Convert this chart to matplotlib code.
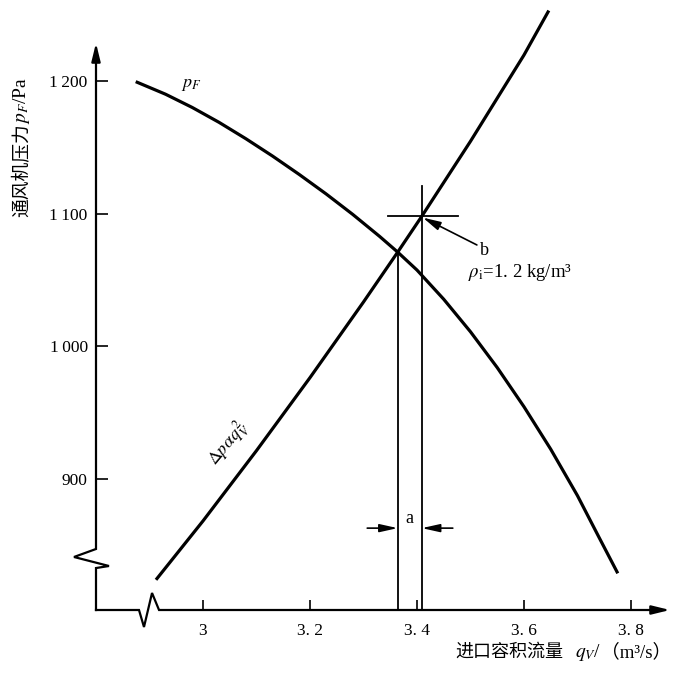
import matplotlib

matplotlib.use("Agg")
import matplotlib.pyplot as plt


# fan characteristic p_F(q_V), Pa vs m3/s
FAN_Q = [2.877, 2.93, 2.98, 3.03, 3.08, 3.13, 3.18, 3.23, 3.28, 3.33, 3.364,
         3.40, 3.45, 3.50, 3.55, 3.60, 3.65, 3.70, 3.74, 3.774]
FAN_P = [1199, 1190, 1180, 1168.8, 1156.5, 1143.4, 1129.5, 1114.9, 1099.4, 1082.9, 1071,
         1057.5, 1035.5, 1011, 984, 954.5, 922.5, 887.5, 856.3, 830]

# system resistance curve, Δp = α ρ q_V²
SYS_Q = [2.914, 3.00, 3.10, 3.20, 3.30, 3.364, 3.409, 3.50, 3.60, 3.645]
SYS_P = [825, 868.4, 921.4, 976.4, 1033.4, 1071, 1098, 1154.5, 1219.5, 1252]

# operating points: curve crossing and point b (ρi = 1.2 kg/m³)
Q_CROSS, P_CROSS = 3.364, 1071
Q_B, P_B = 3.409, 1098

X_TICKS = [3.0, 3.2, 3.4, 3.6, 3.8]
X_TICK_LABELS = ["3", "3. 2", "3. 4", "3. 6", "3. 8"]
Y_TICKS = [900, 1000, 1100, 1200]
Y_TICK_LABELS = ["900", "1\u2009000", "1\u2009100", "1\u2009200"]

W, H = 681, 673
SERIF = ["Liberation Serif", "Noto Sans CJK SC"]
CJK = ["Noto Sans CJK SC", "Liberation Serif"]


def fx(px):
    return px / W


def fy(py):
    return 1 - py / H


def main():
    plt.rcParams.update(
        {
            "font.family": SERIF,
            "font.size": 12,
            "mathtext.fontset": "stix",
        }
    )

    fig = plt.figure(figsize=(W / 100, H / 100), dpi=100)
    ax = fig.add_axes([fx(96), fy(610), (670 - 96) / W, (610 - 43) / H])
    ax.set_xlim(2.8, 3.873)
    ax.set_ylim(801.3, 1228.6)
    ymin = ax.get_ylim()[0]

    for spine in ax.spines.values():
        spine.set_visible(False)

    ax.set_xticks(X_TICKS, X_TICK_LABELS)
    ax.set_yticks(Y_TICKS, Y_TICK_LABELS)
    ax.tick_params(axis="x", direction="in", length=7, width=1.2, pad=9.5, labelsize=12.5)
    ax.tick_params(axis="y", direction="in", length=8.5, width=1.2, pad=6, labelsize=12.5)

    # axis lines with break marks, drawn in axes fraction
    axis_kw = dict(transform=ax.transAxes, clip_on=False, color="black", lw=1.6,
                   solid_joinstyle="miter")
    ax.plot([0, 0, 0.0226, -0.0383, 0, 0], [0, 0.074, 0.0776, 0.0935, 0.1076, 0.98], **axis_kw)
    ax.plot([0, 0.0749, 0.0836, 0.0976, 0.1098, 0.98], [0, 0, -0.030, 0.030, 0, 0], **axis_kw)
    head = dict(arrowstyle="-|>,head_length=0.9,head_width=0.22", color="black",
                lw=1.6, shrinkA=0, shrinkB=0)
    ax.annotate("", xy=(0, 1), xytext=(0, 0.97), xycoords="axes fraction", arrowprops=head)
    ax.annotate("", xy=(1, 0), xytext=(0.97, 0), xycoords="axes fraction", arrowprops=head)

    # curves
    ax.plot(FAN_Q, FAN_P, color="black", lw=2.3, clip_on=False, solid_joinstyle="round")
    ax.plot(SYS_Q, SYS_P, color="black", lw=2.3, clip_on=False, solid_joinstyle="round")

    # construction lines through the operating points
    thin = dict(color="black", lw=1.3)
    ax.plot([Q_CROSS, Q_CROSS], [ymin, P_CROSS], **thin)
    ax.plot([Q_B, Q_B], [ymin, P_B + 23], **thin)
    ax.plot([Q_B - 0.063, Q_B + 0.068], [P_B, P_B], **thin)

    # dimension "a"
    dim = dict(arrowstyle="-|>,head_length=0.9,head_width=0.2", color="black",
               lw=1.2, shrinkA=0, shrinkB=0)
    y_dim = 863
    ax.annotate("", xy=(Q_CROSS, y_dim), xytext=(Q_CROSS - 0.057, y_dim), arrowprops=dim)
    ax.annotate("", xy=(Q_B, y_dim), xytext=(Q_B + 0.058, y_dim), arrowprops=dim)
    ax.text((Q_CROSS + Q_B) / 2, y_dim + 4, "a", ha="center", va="baseline", fontsize=13)

    # leader "b"
    ax.annotate("", xy=(Q_B + 0.002, P_B - 1), xytext=(3.512, 1076.4),
                arrowprops=dict(arrowstyle="-|>,head_length=0.9,head_width=0.22",
                                color="black", lw=1.2, shrinkA=0, shrinkB=0))
    ax.text(3.527, 1072.6, "b", ha="center", va="center", fontsize=13)
    ax.text(3.495, 1056, r"$\rho_{\mathrm{i}}$=1. 2 kg/m³", ha="left", va="center",
            fontsize=13.5)

    # curve labels
    ax.text(2.979, 1197, r"$p_F$", ha="center", va="center", fontsize=13)
    ax.text(3.047, 927, r"$\Delta p\alpha q_V^2$", ha="center", va="center",
            rotation=50, rotation_mode="anchor", fontsize=13)

    # axis titles
    fig.text(fx(22), fy(217), "通风机压力", family=CJK, rotation=90,
             ha="center", va="bottom", fontsize=13.5)
    fig.text(fx(22), fy(124), r"$p_F$/Pa", rotation=90, ha="center", va="bottom",
             fontsize=14)
    fig.text(fx(455), fy(657), "进口容积流量", family=CJK, ha="left", va="baseline",
             fontsize=13)
    fig.text(fx(575), fy(657), r"$q_V$/", ha="left", va="baseline", fontsize=14)
    fig.text(fx(601), fy(657), "（m³/s）", family=SERIF, ha="left", va="baseline",
             fontsize=13.5)

    fig.savefig("out.png", dpi=100, facecolor="white")
    plt.close(fig)


if __name__ == "__main__":
    main()
